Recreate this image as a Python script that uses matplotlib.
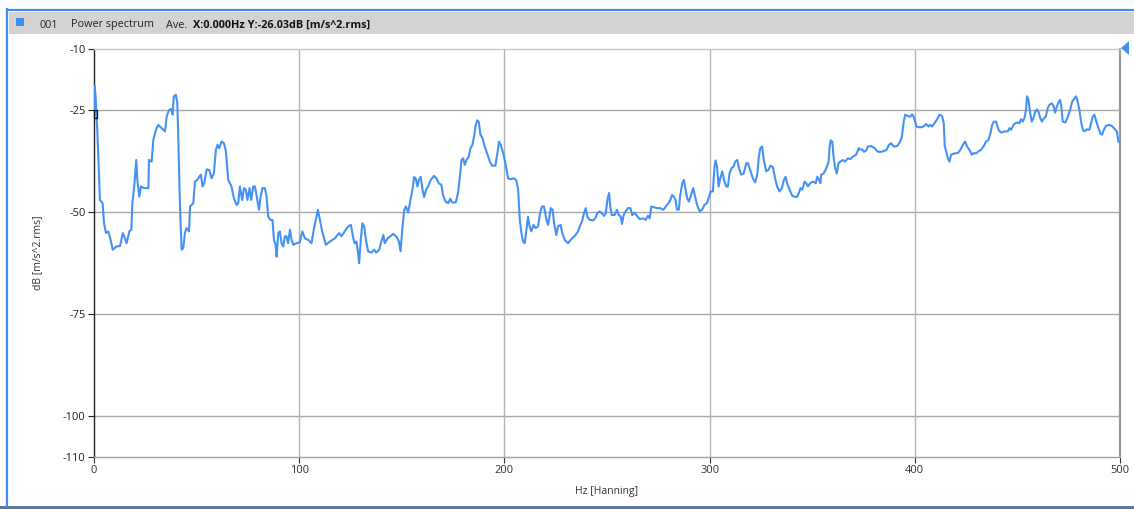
import matplotlib
matplotlib.use("Agg")
import matplotlib.pyplot as plt
from matplotlib.patches import Rectangle, Polygon
from matplotlib.lines import Line2D

plt.rcParams['font.family'] = ['Open Sans', 'DejaVu Sans']
plt.rcParams['axes.unicode_minus'] = False

# ---------------- data ----------------
freq_hz = [
    0.0, 0.3, 0.8, 1.2, 1.6, 2.1, 2.9, 4.2, 4.9, 5.8, 7.0, 8.1, 9.1, 11.0, 12.7, 14.0, 14.8, 15.9,
    17.2, 18.2, 18.7, 19.6, 20.6, 21.1, 22.1, 22.9, 24.4, 26.5, 26.8, 28.1, 28.9, 30.2, 31.3,
    33.0, 34.6, 35.4, 36.5, 37.5, 38.3, 38.9, 39.9, 40.6, 41.1, 41.9, 42.7, 43.5, 44.3, 45.1,
    46.3, 46.8, 47.6, 48.4, 49.2, 50.3, 51.3, 52.1, 52.9, 53.7, 54.9, 56.2, 57.3, 58.4, 59.4,
    60.2, 61.0, 62.2, 63.3, 64.3, 64.9, 65.4, 67.0, 68.2, 69.5, 70.3, 71.1, 72.2, 73.1, 74.0,
    74.8, 75.8, 76.6, 77.6, 78.4, 79.2, 80.4, 81.2, 82.1, 83.3, 84.1, 84.9, 86.0, 87.0, 87.7,
    88.5, 89.0, 89.8, 90.6, 91.4, 92.2, 93.0, 93.8, 94.6, 95.5, 96.3, 97.1, 98.7, 100.3, 101.5,
    102.8, 104.4, 106.0, 107.1, 108.1, 109.1, 110.1, 111.2, 113.0, 114.9, 117.4, 119.5, 120.6,
    122.7, 123.9,
    125.2, 126.2, 127.0, 127.9, 128.7, 129.2, 130.0, 130.8, 131.7, 132.5, 133.6, 135.2, 136.5,
    137.5, 139.0, 139.8, 141.0, 141.7, 143.1, 144.2, 145.8, 147.4, 148.6, 149.4, 150.2, 151.2,
    152.0, 153.1, 154.2, 155.2, 156.0, 156.8, 157.6, 158.3, 159.2, 160.1, 160.9, 161.8, 162.8,
    164.1, 165.7, 166.9, 168.0, 169.3, 170.1, 171.3, 172.6, 173.6, 174.5, 176.3, 177.4, 178.3,
    179.1, 179.9, 180.7, 181.5, 182.6, 183.5, 184.4, 185.2, 185.9, 186.7, 187.5, 188.3, 189.3,
    190.4, 191.8, 192.9, 194.0, 195.6, 196.6, 197.4, 198.2, 199.4, 200.5, 201.8, 202.9, 204.7,
    205.8, 206.7, 207.5, 208.3, 209.1, 209.9, 210.7, 211.5, 212.3, 213.1, 214.2, 215.2, 216.4,
    217.4, 218.3, 219.3, 220.5, 221.3, 222.6, 223.5, 224.2, 225.3, 226.1, 227.4, 228.2, 229.4,
    231.0, 232.6, 234.3, 235.9, 236.7, 237.8, 238.8, 239.6, 240.4, 241.6, 243.2, 244.3, 245.3,
    246.5, 247.3, 248.6,
    249.4, 250.2, 251.0, 251.6, 252.3, 253.7, 254.9, 255.8, 256.7, 257.3, 258.1, 259.1, 260.2,
    261.4, 262.3, 263.5, 264.6, 265.9, 267.5, 268.8, 269.9, 270.8, 271.6, 272.9, 274.3, 275.9,
    277.3, 278.1, 278.9, 279.7, 280.8, 281.7, 282.6, 283.4, 284.1, 285.0, 285.7, 286.7, 287.5,
    288.3, 289.1, 289.9, 291.0, 292.0, 293.0, 293.9, 295.1, 296.3, 297.5, 298.7, 299.5, 300.5,
    301.6, 302.4, 302.9, 303.6, 304.4, 305.2, 306.2, 307.0, 308.1, 308.9, 309.7, 310.7, 311.7,
    312.5, 313.5, 314.3, 315.4, 316.6, 317.9, 318.7, 319.8, 321.1, 322.2, 323.2, 324.0, 324.7,
    325.6, 326.4, 327.6, 328.7, 329.7, 330.8, 332.1, 332.9, 334.1, 335.2, 336.2, 337.0, 337.8,
    339.0, 340.3, 341.4, 342.5, 343.5, 344.3, 345.1, 346.3, 347.1, 347.9, 349.0, 350.4, 351.7,
    352.5, 353.3, 354.0, 354.4, 355.6, 356.9, 358.0, 358.5, 359.0, 359.8, 360.4, 361.2, 362.0,
    362.8, 363.8, 364.9, 366.0, 367.4, 368.5, 369.8, 371.4, 372.7,
    373.1, 374.3, 375.2, 376.4, 377.1, 378.8, 380.4, 382.0, 383.7, 386.1, 387.4, 388.5, 389.7,
    391.4, 392.9, 393.7, 394.5, 395.3, 396.6, 397.8, 398.7, 399.5, 400.2, 400.8, 402.3, 403.9,
    405.5, 406.7, 407.6, 408.4, 409.6, 410.9, 412.0, 413.3, 414.1, 414.6, 415.3, 416.1, 416.9,
    417.7, 419.3, 421.0, 422.2, 423.4, 424.5, 425.5, 426.6, 427.8, 428.8, 429.9, 431.0, 432.3,
    433.6, 434.7, 435.9, 436.9, 437.7, 438.5, 439.6, 440.8, 442.0, 443.7, 445.3, 446.1, 446.9,
    448.1, 449.0, 450.2, 451.0, 451.8, 452.6, 453.4, 454.2, 454.7, 455.4, 456.2, 457.0, 457.8,
    458.6, 459.6, 460.4, 461.2, 462.0, 462.9, 463.8, 464.8, 465.6, 466.8, 467.7, 468.4, 469.2,
    470.2, 470.8, 471.3, 472.1, 473.4, 474.6, 475.7, 476.7, 477.8, 478.6, 479.4, 480.2, 481.0,
    481.9, 482.7, 483.8, 485.1, 485.9, 486.7, 487.5, 488.5, 489.5, 490.5, 491.3, 492.1, 493.2,
    494.8, 496.4, 497.7, 498.5, 499.2, 500.0,
]
level_db = [
    -26.03, -19.0, -21.5, -26.0, -29.8, -36.4, -47.0, -47.8, -52.7, -55.1, -54.7, -56.8, -59.2,
    -58.4, -58.3, -55.1, -56.0, -57.6, -54.7, -54.3, -47.8, -43.7, -37.2, -42.1, -46.2, -43.7,
    -44.1, -44.1, -37.2, -37.6, -32.3, -29.8, -28.6, -29.4, -30.2, -26.6, -25.0, -24.7, -26.1,
    -21.6, -21.2, -23.3, -32.3, -48.6, -59.2, -58.8, -55.1, -53.9, -54.7, -48.6, -48.2, -47.8,
    -42.5, -42.1, -41.3, -40.8, -43.7, -42.9, -39.5, -39.7, -41.7, -40.5, -34.7, -33.5, -34.3,
    -32.7, -33.1, -35.1, -38.8, -42.1, -43.7, -46.6, -48.2, -47.8, -43.7, -47.0, -44.1, -44.5,
    -47.0, -44.1, -47.0, -43.7, -43.7, -45.8, -49.4, -46.2, -44.1, -44.1, -46.2, -51.1, -51.9,
    -51.9, -56.8, -58.0, -60.9, -55.1, -54.7, -57.6, -58.4, -55.9, -55.9, -57.6, -54.3, -56.8,
    -58.0, -57.6, -57.4, -54.7, -56.4, -56.8, -57.6, -54.3, -51.9, -49.4, -51.9, -54.7, -58.0,
    -57.2, -56.4, -55.1, -55.9, -54.3, -53.5,
    -53.1, -56.0, -57.6, -57.2, -60.0, -62.5, -56.8, -52.7, -53.5, -56.8, -59.6, -59.9, -59.2,
    -59.9, -59.2, -57.6, -55.6, -57.6, -56.4, -56.0, -55.3, -56.0, -57.2, -59.6, -54.3, -49.4,
    -48.6, -50.1, -47.0, -44.5, -41.4, -41.7, -43.7, -42.1, -41.3, -44.5, -46.3, -44.5, -43.7,
    -42.1, -41.1, -41.7, -42.9, -43.3, -45.8, -47.4, -47.8, -46.7, -47.6, -47.6, -45.3, -41.3,
    -37.2, -36.8, -38.4, -37.2, -36.4, -34.3, -33.5, -31.5, -29.0, -27.5, -27.8, -31.0, -31.8,
    -33.9, -35.9, -37.6, -38.6, -38.6, -35.5, -32.7, -33.5, -35.5, -38.0, -41.7, -41.9, -41.7,
    -42.2, -44.5, -51.9, -55.1, -57.2, -57.6, -54.3, -51.1, -53.5, -54.7, -53.1, -53.9, -53.5,
    -50.2, -48.6, -48.6, -51.9, -53.1, -49.0, -49.4, -52.7, -55.6, -53.5, -53.1, -55.1, -56.8,
    -57.6, -56.6, -55.8, -54.7, -53.5, -52.3, -50.2, -49.0, -51.1, -51.9, -52.0, -51.5, -50.2,
    -49.8, -50.2, -50.9,
    -50.2, -47.0, -45.3, -48.6, -50.7, -50.7, -49.4, -50.7, -51.1, -52.9, -50.7, -49.8, -49.0,
    -49.0, -50.7, -50.1, -50.9, -51.7, -51.5, -51.9, -50.9, -51.5, -48.6, -48.8, -49.0, -49.0,
    -49.4, -49.0, -48.4, -48.0, -47.1, -45.8, -46.2, -47.0, -49.4, -49.4, -45.8, -42.9, -42.1,
    -44.5, -46.6, -47.4, -45.8, -44.1, -46.2, -48.2, -49.8, -49.4, -48.2, -47.8, -46.6, -44.9,
    -44.9, -38.8, -37.3, -38.8, -43.7, -41.7, -40.0, -42.1, -43.7, -43.7, -40.5, -39.2, -38.8,
    -37.6, -37.2, -39.2, -40.8, -40.5, -38.0, -38.0, -39.7, -41.7, -42.7, -40.8, -36.4, -34.3,
    -33.9, -37.2, -40.0, -39.6, -38.6, -38.9, -42.1, -43.7, -44.9, -44.1, -42.1, -41.3, -42.9,
    -44.5, -46.0, -46.2, -46.3, -45.3, -44.1, -44.5, -42.5, -42.9, -43.7, -42.9, -42.5, -42.9,
    -41.3, -42.1, -42.9, -40.8, -40.5, -39.2, -37.6, -33.9, -32.4, -32.7, -36.4, -39.2, -40.5,
    -38.0, -37.6, -37.2, -37.6, -36.8, -37.0, -36.4, -35.9, -34.3,
    -34.6, -34.6, -35.2, -34.8, -33.9, -33.8, -34.3, -35.2, -35.2, -34.8, -33.5, -33.1, -33.9,
    -33.8, -32.7, -31.5, -28.2, -26.1, -26.4, -26.6, -26.0, -26.6, -27.8, -29.0, -29.2, -29.1,
    -28.4, -29.0, -28.6, -29.0, -28.2, -27.2, -26.1, -26.4, -28.2, -33.9, -35.1, -36.8, -37.6,
    -35.9, -35.6, -35.5, -34.7, -33.5, -32.7, -33.9, -34.7, -35.9, -35.5, -35.6, -35.1, -34.7,
    -33.8, -32.7, -32.3, -30.6, -28.6, -27.8, -27.8, -29.8, -30.5, -30.2, -30.2, -29.4, -29.8,
    -28.6, -28.2, -28.0, -28.2, -27.2, -27.8, -27.0, -24.9, -21.6, -22.4, -25.7, -27.8, -27.0,
    -25.4, -24.8, -25.6, -27.0, -27.8, -27.0, -26.6, -24.5, -23.7, -23.3, -24.1, -25.6, -24.1,
    -22.9, -22.5, -23.7, -27.8, -28.0, -26.6, -24.9, -22.9, -22.1, -21.6, -22.9, -24.9, -27.8,
    -29.8, -30.2, -29.7, -29.8, -28.2, -26.6, -26.1, -27.8, -29.4, -30.8, -31.0, -29.8, -28.8,
    -28.6, -29.0, -29.8, -30.2, -32.7, -32.9,
]

x_ticks = [0, 100, 200, 300, 400, 500]
y_ticks = [-10, -25, -50, -75, -100, -110]
y_grid = [-25, -50, -75, -100]
cursor_x = 0.0
cursor_y = -26.03

header_id = "001"
header_name = "Power spectrum"
header_mode = "Ave."
header_value = "X:0.000Hz Y:-26.03dB [m/s^2.rms]"
x_label = "Hz [Hanning]"
y_label = "dB [m/s^2.rms]"

# ---------------- figure ----------------
W, H = 1134, 509
fig = plt.figure(figsize=(W / 100, H / 100), dpi=100)
fig.patch.set_facecolor("white")

def fx(px):
    return px / W

def fy(py):
    return 1 - py / H

# window frame and header bar
fig.patches.append(Rectangle((fx(9), fy(34)), fx(W - 9), fy(12) - fy(34),
                             transform=fig.transFigure, facecolor="#d3d3d3",
                             edgecolor="none", zorder=0))
fig.add_artist(Line2D([fx(7), fx(7)], [fy(9), fy(506)], transform=fig.transFigure,
                      color="#3d8ef0", lw=1.6))
fig.add_artist(Line2D([fx(7), fx(W)], [fy(10), fy(10)], transform=fig.transFigure,
                      color="#3d8ef0", lw=1.6))
fig.patches.append(Rectangle((0, 0), 1, fy(506), transform=fig.transFigure,
                             facecolor="#5a7aa6", edgecolor="none", zorder=0))
fig.patches.append(Rectangle((fx(16), fy(26)), fx(8), fy(18) - fy(26),
                             transform=fig.transFigure, facecolor="#3d8ef0",
                             edgecolor="none"))

ty = fy(27.5)
fig.text(fx(40), ty, header_id, fontsize=7.8, color="#222222", va="baseline")
fig.text(fx(71), ty, header_name, fontsize=7.8, color="#222222", va="baseline")
fig.text(fx(166), ty, header_mode, fontsize=7.8, color="#222222", va="baseline")
fig.text(fx(193), ty, header_value, fontsize=7.8, color="#111111", va="baseline",
         fontweight="bold")

# axes
left, right, top, bottom = 94, 1120, 49, 457
ax = fig.add_axes([fx(left), fy(bottom), fx(right - left), fy(top) - fy(bottom)])
ax.set_xlim(0, 500)
ax.set_ylim(-110, -10)

for yv in y_grid:
    ax.axhline(yv, color="#a8a8a8", lw=1.0, zorder=1)
for xv in x_ticks[1:-1]:
    ax.axvline(xv, color="#b4b4b4", lw=1.0, zorder=1)

ax.plot(freq_hz, level_db, color="#4492f4", lw=1.5, zorder=3)

# cursor marker
ax.add_patch(Rectangle((cursor_x, cursor_y - 1.0), 1.5, 2.0, facecolor="none",
                       edgecolor="#111111", lw=0.9, zorder=4, clip_on=False))

ax.set_xticks(x_ticks)
ax.set_yticks(y_ticks)
ax.set_xticklabels([str(v) for v in x_ticks])
ax.set_yticklabels([str(v) for v in y_ticks])
ax.tick_params(axis="both", labelsize=8, colors="#333333", length=4, width=0.8,
               direction="out", pad=2)
ax.tick_params(axis="y", colors="#222222")

ax.spines["left"].set_color("#222222")
ax.spines["left"].set_linewidth(1.0)
ax.spines["bottom"].set_color("#a0a0a0")
ax.spines["bottom"].set_linewidth(1.0)
ax.spines["top"].set_color("#c8c8c8")
ax.spines["top"].set_linewidth(1.0)
ax.spines["right"].set_color("#9a9a9a")
ax.spines["right"].set_linewidth(1.6)

ax.set_xlabel(x_label, fontsize=7.5, color="#333333", labelpad=7)
ax.set_ylabel(y_label, fontsize=7.5, color="#333333", labelpad=14)

# right-top triangle marker
tri = Polygon([(fx(1121), fy(48)), (fx(1129), fy(41)), (fx(1129), fy(55))],
              closed=True, transform=fig.transFigure, facecolor="#3d8ef0",
              edgecolor="none")
fig.patches.append(tri)

fig.savefig("out.png", dpi=100)
